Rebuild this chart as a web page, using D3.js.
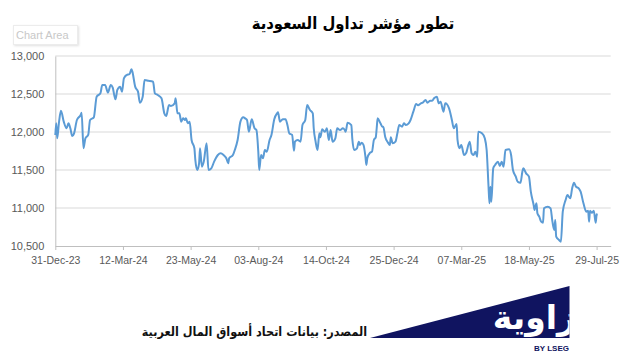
<!DOCTYPE html>
<html lang="ar">
<head>
<meta charset="utf-8">
<script src="https://cdn.jsdelivr.net/npm/d3@7"></script>
<style>
    body { margin: 0; background: #ffffff; }
    .tick-label { font-family: "Liberation Sans", Arial, sans-serif; font-size: 10.5px; fill: #595959; }
    .title { font-family: "DejaVu Sans Condensed", "DejaVu Sans", sans-serif; font-weight: bold; font-size: 16.5px; fill: #000000; }
    .source { font-family: "DejaVu Sans Condensed", "DejaVu Sans", sans-serif; font-weight: bold; font-size: 12.5px; fill: #111111; }
</style>
</head>
<body>
<div id="chart"></div>
<script>
    // readings
    const dates = [
        "2023-12-31","2024-01-01","2024-01-02","2024-01-04","2024-01-06","2024-01-09","2024-01-12","2024-01-14","2024-01-16","2024-01-18",
        "2024-01-20","2024-01-23","2024-01-27","2024-01-28","2024-01-30","2024-02-01","2024-02-04","2024-02-06","2024-02-10","2024-02-13",
        "2024-02-17","2024-02-19","2024-02-22","2024-02-25","2024-02-28","2024-03-01","2024-03-04","2024-03-06","2024-03-09","2024-03-11",
        "2024-03-13","2024-03-16","2024-03-19","2024-03-21","2024-03-22","2024-03-25","2024-03-28","2024-03-30","2024-04-02","2024-04-04",
        "2024-04-08","2024-04-13","2024-04-15","2024-04-18","2024-04-22","2024-04-25","2024-04-27","2024-04-30","2024-05-02","2024-05-06",
        "2024-05-07","2024-05-09","2024-05-11","2024-05-13","2024-05-15","2024-05-17","2024-05-18","2024-05-20","2024-05-22","2024-05-24",
        "2024-05-27","2024-05-28","2024-05-30","2024-06-01","2024-06-02","2024-06-04","2024-06-06","2024-06-09","2024-06-11","2024-06-14",
        "2024-06-17","2024-06-21","2024-06-24","2024-06-27","2024-06-30","2024-07-02","2024-07-03","2024-07-07","2024-07-09","2024-07-12",
        "2024-07-15","2024-07-18","2024-07-20","2024-07-22","2024-07-24","2024-07-27","2024-07-30","2024-08-01","2024-08-03","2024-08-04",
        "2024-08-06","2024-08-08","2024-08-10","2024-08-12","2024-08-15","2024-08-17","2024-08-20","2024-08-23","2024-08-24","2024-08-26",
        "2024-08-29","2024-09-01","2024-09-03","2024-09-05","2024-09-08","2024-09-10","2024-09-11","2024-09-14","2024-09-17","2024-09-19",
        "2024-09-22","2024-09-24","2024-09-27","2024-09-30","2024-10-01","2024-10-03","2024-10-05","2024-10-07","2024-10-08","2024-10-10",
        "2024-10-13","2024-10-15","2024-10-17","2024-10-19","2024-10-21","2024-10-24","2024-10-26","2024-10-29","2024-11-01","2024-11-03",
        "2024-11-04","2024-11-06","2024-11-10","2024-11-11","2024-11-13","2024-11-16","2024-11-18","2024-11-19","2024-11-21","2024-11-23",
        "2024-11-25","2024-11-26","2024-11-27","2024-11-30","2024-12-02","2024-12-04","2024-12-06","2024-12-07","2024-12-08","2024-12-11",
        "2024-12-13","2024-12-14","2024-12-16","2024-12-19","2024-12-21","2024-12-22","2024-12-24","2024-12-27","2024-12-29","2024-12-31",
        "2025-01-03","2025-01-05","2025-01-07","2025-01-10","2025-01-12","2025-01-15","2025-01-18","2025-01-20","2025-01-23","2025-01-25",
        "2025-01-28","2025-01-30","2025-02-02","2025-02-04","2025-02-06","2025-02-09","2025-02-11","2025-02-13","2025-02-16","2025-02-18",
        "2025-02-22","2025-02-25","2025-02-27","2025-03-02","2025-03-03","2025-03-05","2025-03-07","2025-03-10","2025-03-12","2025-03-16",
        "2025-03-18","2025-03-20","2025-03-22","2025-03-24","2025-03-25","2025-03-29","2025-04-01","2025-04-03","2025-04-05","2025-04-06",
        "2025-04-07","2025-04-08","2025-04-10","2025-04-12","2025-04-15","2025-04-17","2025-04-19","2025-04-21","2025-04-23","2025-04-27",
        "2025-04-29","2025-05-01","2025-05-04","2025-05-06","2025-05-09","2025-05-11","2025-05-12","2025-05-15","2025-05-18","2025-05-20",
        "2025-05-23","2025-05-24","2025-05-26","2025-05-27","2025-05-29","2025-05-31","2025-06-02","2025-06-03","2025-06-07","2025-06-10",
        "2025-06-12","2025-06-14","2025-06-15","2025-06-16","2025-06-19","2025-06-21","2025-06-23","2025-06-26","2025-06-28","2025-07-01",
        "2025-07-03","2025-07-05","2025-07-07","2025-07-10","2025-07-12","2025-07-15","2025-07-18","2025-07-20","2025-07-21","2025-07-22",
        "2025-07-24","2025-07-26","2025-07-28","2025-07-29","2025-07-30"
    ];
    const values = [
        11960,12114,11917,12136,12280,12136,12049,12114,12049,11947,
        11983,12158,12224,12254,11786,11917,11961,12158,12193,12465,
        12509,12618,12618,12518,12618,12588,12430,12553,12597,12531,
        12706,12750,12763,12825,12794,12597,12531,12386,12465,12684,
        12675,12662,12509,12487,12443,12246,12211,12355,12342,12377,
        12443,12246,12246,12136,12180,12158,12180,12114,12136,11895,
        11786,11632,11500,11588,11786,11544,11610,11851,11500,11522,
        11610,11697,11720,11697,11654,11588,11654,11697,11763,11895,
        12136,12193,12180,12158,12004,12167,12049,12026,11741,11500,
        11697,11654,11763,11741,11895,11961,12167,12246,12259,12136,
        12167,12167,12092,11983,11961,11754,11873,11895,11873,12092,
        12158,12355,12289,12246,12049,11873,11763,11983,11930,12035,
        12004,12049,11895,12026,11873,11917,12049,12026,12049,12026,
        12004,12123,12092,11917,11763,11786,11873,11829,11860,11829,
        11675,11566,11654,11728,11741,11895,11930,12049,12180,12114,
        12070,12070,11939,11860,11829,11930,11851,11873,11983,12092,
        12070,12114,12092,12114,12158,12268,12368,12351,12377,12386,
        12421,12386,12412,12412,12443,12465,12377,12399,12268,12377,
        12311,12158,12049,12105,11895,11786,11829,11697,11720,11873,
        11720,11697,11741,11675,12004,11983,11917,11763,11281,11062,
        11281,11083,11522,11566,11610,11553,11610,11544,11763,11772,
        11697,11500,11412,11346,11333,11478,11522,11456,11412,11215,
        11040,10974,11062,10930,10886,10820,10807,10996,11018,10996,
        10820,10711,10842,10623,10579,10557,10952,11105,11171,11128,
        11259,11333,11281,11259,11215,11062,10952,10965,10820,10965,
        10938,10965,10807,10908,10921
    ];
    const yTicks = [10500, 11000, 11500, 12000, 12500, 13000];
    const xTickDates = ["2023-12-31","2024-03-12","2024-05-23","2024-08-03","2024-10-14",
                        "2024-12-25","2025-03-07","2025-05-18","2025-07-29"];
    const xDomain = ["2023-12-31", "2025-08-13"];

    const titleText = "تطور مؤشر تداول السعودية";
    const sourceText = "المصدر: بيانات اتحاد أسواق المال العربية";
    const logoText = "زاوية";

    const width = 622;
    const height = 363;
    const plot = { left: 55.3, right: 610.7, top: 56, bottom: 246 };

    const parse = d3.utcParse("%Y-%m-%d");
    const data = dates.map((d, i) => ({ date: parse(d), value: values[i] }));

    const svg = d3.select("#chart").append("svg")
        .attr("width", width)
        .attr("height", height);

    const x = d3.scaleUtc().domain(xDomain.map(parse)).range([plot.left, plot.right]);
    const y = d3.scaleLinear().domain([10500, 13000]).range([plot.bottom, plot.top]);

    // gridlines
    svg.append("g")
        .selectAll("line")
        .data(yTicks.slice(1))
        .join("line")
        .attr("x1", plot.left)
        .attr("x2", plot.right)
        .attr("y1", d => y(d))
        .attr("y2", d => y(d))
        .attr("stroke", "#d9d9d9")
        .attr("stroke-width", 1);

    // y axis labels + line
    const yAxis = svg.append("g")
        .attr("transform", "translate(" + plot.left + ",0)")
        .call(d3.axisLeft(y).tickValues(yTicks).tickSize(0).tickPadding(11).tickFormat(d3.format(",")));
    yAxis.select(".domain").attr("stroke", "#bfbfbf");
    yAxis.selectAll("text").attr("class", "tick-label").attr("fill", null).style("font-size", "11px");

    // x axis
    const xAxis = svg.append("g")
        .attr("transform", "translate(0," + plot.bottom + ")")
        .call(d3.axisBottom(x)
            .tickValues(xTickDates.map(parse))
            .tickSize(4)
            .tickPadding(7)
            .tickSizeOuter(0)
            .tickFormat(d3.utcFormat("%d-%b-%y")));
    xAxis.select(".domain").attr("stroke", "#bfbfbf");
    xAxis.selectAll("line").attr("stroke", "#bfbfbf");
    xAxis.selectAll("text").attr("class", "tick-label").attr("fill", null);

    // series line
    const line = d3.line()
        .x(d => x(d.date))
        .y(d => y(d.value))
        .curve(d3.curveMonotoneX);

    svg.append("path")
        .datum(data)
        .attr("fill", "none")
        .attr("stroke", "#5b9bd5")
        .attr("stroke-width", 2)
        .attr("stroke-linejoin", "round")
        .attr("d", line);

    // title
    svg.append("text")
        .attr("class", "title")
        .attr("x", 353)
        .attr("y", 29)
        .attr("text-anchor", "middle")
        .attr("direction", "rtl")
        .text(titleText);

    // excel "Chart Area" hint box
    svg.append("rect")
        .attr("x", 13.5)
        .attr("y", 25.5)
        .attr("width", 64)
        .attr("height", 19)
        .attr("fill", "#ffffff")
        .attr("stroke", "#ececec")
        .style("filter", "drop-shadow(1px 1px 1px rgba(0,0,0,0.12))");
    svg.append("text")
        .attr("x", 16)
        .attr("y", 39)
        .attr("font-family", "Liberation Sans, Arial, sans-serif")
        .attr("font-size", 11)
        .attr("fill", "#c8c8c8")
        .text("Chart Area");

    // source line
    svg.append("text")
        .attr("class", "source")
        .attr("x", 367)
        .attr("y", 336)
        .attr("text-anchor", "start")
        .attr("direction", "rtl")
        .text(sourceText);

    // logo: navy wedge with white word, clipped at the right edge
    const logo = svg.append("g");
    logo.append("clipPath")
        .attr("id", "wedge")
        .append("path")
        .attr("d", "M370,338 L569.5,286 L569.5,338 Z");
    logo.append("path")
        .attr("d", "M370,338 L569.5,286 L569.5,338 Z")
        .attr("fill", "#101460");
    logo.append("text")
        .attr("clip-path", "url(#wedge)")
        .attr("x", 576)
        .attr("y", 329)
        .attr("text-anchor", "start")
        .attr("direction", "rtl")
        .attr("font-family", "DejaVu Sans, sans-serif")
        .attr("font-weight", "bold")
        .attr("font-size", 33)
        .attr("fill", "#ffffff")
        .text(logoText);
    logo.append("text")
        .attr("x", 569)
        .attr("y", 351)
        .attr("text-anchor", "end")
        .attr("font-family", "Liberation Sans, Arial, sans-serif")
        .attr("font-weight", "bold")
        .attr("font-size", 8)
        .attr("fill", "#101460")
        .text("BY LSEG");
</script>
</body>
</html>
